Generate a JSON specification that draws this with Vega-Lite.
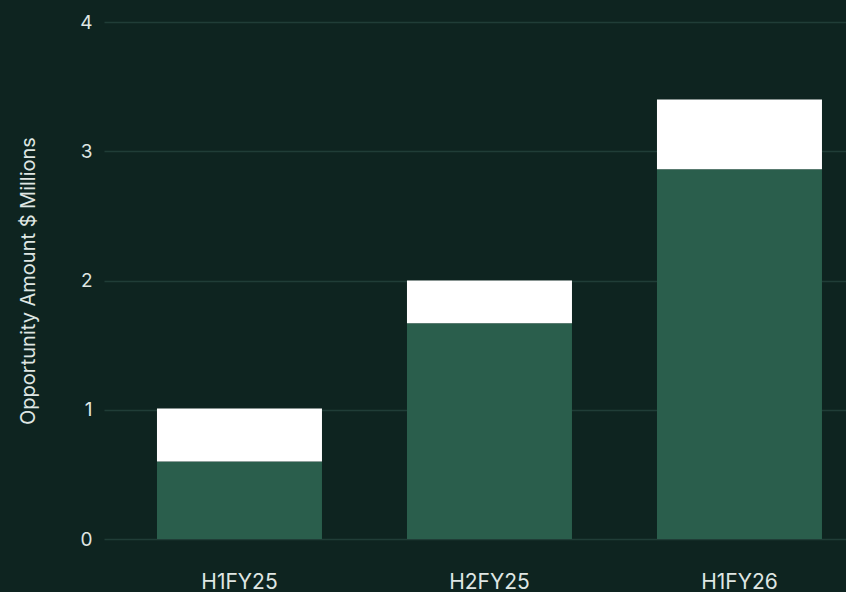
{
  "$schema": "https://vega.github.io/schema/vega-lite/v6.json",
  "width": 742,
  "height": 517,
  "autosize": {"type": "none"},
  "padding": {"left": 104, "top": 22, "right": 0, "bottom": 53},
  "background": "#0e2420",
  "config": {
    "view": {"stroke": null},
    "font": "Inter",
    "axis": {"labelColor": "#dfe6e3", "titleColor": "#dfe6e3", "gridColor": "#203d37", "gridWidth": 1.5}
  },
  "data": {
    "values": [
      {"period": "H1FY25", "segment": "Base", "rank": 1, "amount": 0.6},
      {"period": "H1FY25", "segment": "Additional", "rank": 2, "amount": 0.41},
      {"period": "H2FY25", "segment": "Base", "rank": 1, "amount": 1.67},
      {"period": "H2FY25", "segment": "Additional", "rank": 2, "amount": 0.33},
      {"period": "H1FY26", "segment": "Base", "rank": 1, "amount": 2.86},
      {"period": "H1FY26", "segment": "Additional", "rank": 2, "amount": 0.54}
    ]
  },
  "mark": {"type": "bar"},
  "encoding": {
    "x": {
      "field": "period",
      "type": "nominal",
      "sort": ["H1FY25", "H2FY25", "H1FY26"],
      "scale": {"paddingInner": 0.34, "paddingOuter": 0.154, "align": 0.688},
      "axis": {"title": null, "labelAngle": 0, "domain": false, "ticks": false, "labelPadding": 32, "labelFontSize": 21, "labelDx": -5, "grid": false}
    },
    "y": {
      "field": "amount",
      "type": "quantitative",
      "stack": "zero",
      "scale": {"domain": [0, 4]},
      "axis": {"title": "Opportunity Amount $ Millions", "titleFontSize": 20, "titleFontWeight": "normal", "titlePadding": 41, "values": [0, 1, 2, 3, 4], "labelOverlap": false, "domain": false, "ticks": false, "labelPadding": 12, "labelFontSize": 19, "grid": true}
    },
    "color": {
      "field": "segment",
      "type": "nominal",
      "scale": {"domain": ["Base", "Additional"], "range": ["#2a5e4c", "#ffffff"]},
      "legend": null
    },
    "order": {"field": "rank", "type": "quantitative"}
  }
}
